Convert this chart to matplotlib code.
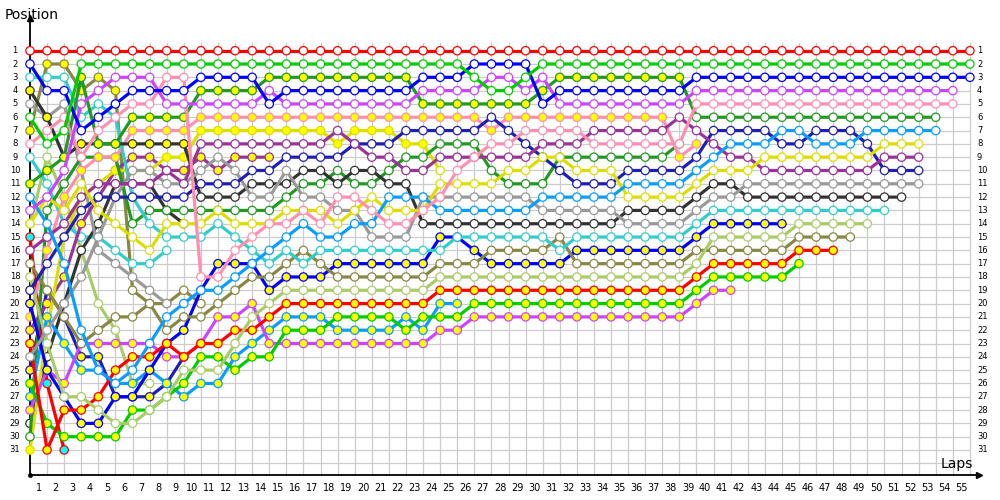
import matplotlib
matplotlib.use("Agg")
import matplotlib.pyplot as plt

laps = list(range(0, 56))
position_labels = [str(p) for p in range(1, 32)]
lap_labels = [str(n) for n in range(1, 56)]

# position of every car per lap, lap 0 is the starting grid
red_1 = [1, 1, 1, 1, 1, 1, 1, 1, 1, 1,  1, 1, 1, 1, 1, 1, 1, 1, 1, 1,
         1, 1, 1, 1, 1, 1, 1, 1, 1, 1,  1, 1, 1, 1, 1, 1, 1, 1, 1, 1,
         1, 1, 1, 1, 1, 1, 1, 1, 1, 1,  1, 1, 1, 1, 1, 1]
lime_1 = [6, 8, 7, 2, 2, 2, 2, 2, 2, 2,  2, 2, 2, 2, 2, 2, 2, 2, 2, 2,
          2, 2, 2, 2, 2, 2, 3, 4, 4, 3,  2, 2, 2, 2, 2, 2, 2, 2, 2, 2,
          2, 2, 2, 2, 2, 2, 2, 2, 2, 2,  2, 2, 2, 2, 2, 2]
blue_1 = [2, 4, 4, 7, 6, 5, 4, 4, 4, 4,  3, 3, 3, 3, 5, 4, 4, 4, 4, 4,
          4, 4, 4, 3, 3, 3, 2, 2, 2, 2,  5, 4, 4, 4, 4, 4, 4, 4, 4, 3,
          3, 3, 3, 3, 3, 3, 3, 3, 3, 3,  3, 3, 3, 3, 3, 3]
violet_1 = [13, 12, 10, 5, 4, 3, 3, 3, 5, 5,  5, 5, 5, 5, 4, 5, 5, 5, 5, 5,
            5, 5, 5, 4, 4, 4, 4, 3, 3, 4,  3, 5, 5, 5, 5, 5, 5, 5, 5, 4,
            4, 4, 4, 4, 4, 4, 4, 4, 4, 4,  4, 4, 4, 4, 4]
pink_2 = [8, 7, 6, 9, 7, 6, 5, 5, 3, 3,  18, 18, 16, 15, 14, 14, 13, 14, 12, 12,
          13, 14, 14, 13, 12, 10, 9, 8, 8, 7,  7, 7, 7, 8, 8, 8, 8, 8, 8, 5,
          5, 5, 5, 5, 5, 5, 5, 5, 5, 5,  5, 5, 5, 5, 5]
green_1 = [11, 10, 9, 3, 8, 8, 6, 6, 6, 6,  4, 4, 4, 4, 3, 3, 3, 3, 3, 3,
           3, 3, 3, 5, 5, 5, 5, 5, 5, 5,  4, 3, 3, 3, 3, 3, 3, 3, 3, 6,
           6, 6, 6, 6, 6, 6, 6, 6, 6, 6,  6, 6, 6, 6]
azure_1 = [12, 14, 17, 22, 25, 26, 25, 23, 21, 20,  19, 19, 18, 17, 16, 15, 14, 15, 15, 14,
           14, 12, 12, 12, 13, 13, 13, 13, 13, 13,  12, 12, 12, 12, 12, 11, 11, 11, 11, 10,
           9, 8, 8, 8, 7, 7, 8, 8, 8, 7,  7, 7, 7, 7]
yellow_1 = [14, 12, 13, 11, 13, 14, 15, 16, 14, 14,  14, 13, 14, 14, 14, 13, 13, 13, 14, 13,
            12, 13, 13, 13, 11, 11, 11, 11, 10, 10,  9, 9, 10, 10, 10, 12, 12, 12, 12, 11,
            10, 10, 10, 9, 9, 9, 9, 9, 9, 9,  8, 8, 8]
purple_1 = [16, 15, 14, 12, 11, 11, 11, 11, 10, 11,  8, 8, 8, 8, 8, 8, 8, 8, 7, 8,
            9, 9, 10, 10, 9, 9, 9, 9, 9, 9,  8, 8, 8, 7, 7, 7, 7, 7, 6, 7,
            8, 9, 9, 10, 10, 10, 10, 10, 10, 10,  9, 9, 9]
navy_1 = [19, 17, 15, 13, 12, 12, 12, 12, 12, 12,  11, 11, 11, 10, 10, 9, 9, 9, 9, 8,
          8, 8, 7, 7, 7, 7, 7, 6, 7, 8,  9, 10, 11, 11, 11, 10, 10, 10, 10, 9,
          7, 7, 7, 7, 8, 8, 7, 7, 7, 8,  10, 10, 10]
grey_1 = [24, 22, 20, 18, 15, 12, 10, 10, 11, 11,  10, 9, 10, 12, 12, 10, 12, 12, 13, 13,
          15, 15, 15, 12, 12, 12, 12, 12, 12, 12,  13, 13, 13, 13, 13, 14, 14, 14, 14, 13,
          12, 12, 11, 11, 11, 11, 11, 11, 11, 11,  11, 11, 11]
dark_1 = [4, 6, 9, 8, 8, 8, 8, 8, 8, 8,  12, 12, 12, 11, 11, 11, 10, 10, 11, 10,
          10, 11, 11, 14, 14, 14, 14, 14, 14, 14,  14, 14, 14, 14, 14, 13, 13, 13, 13, 12,
          11, 11, 12, 12, 12, 12, 12, 12, 12, 12,  12, 12]
teal_1 = [3, 3, 3, 6, 5, 6, 12, 14, 15, 15,  15, 14, 15, 16, 17, 16, 17, 16, 16, 16,
          16, 16, 16, 16, 16, 15, 15, 15, 15, 15,  15, 16, 15, 15, 15, 15, 15, 15, 15, 14,
          13, 13, 13, 13, 13, 13, 13, 13, 13, 13,  13]
khaki_1 = [18, 23, 27, 27, 28, 29, 29, 28, 27, 25,  25, 25, 23, 21, 20, 19, 19, 19, 19, 19,
           19, 19, 19, 19, 18, 18, 18, 18, 18, 18,  18, 18, 18, 18, 18, 18, 18, 18, 18, 17,
           15, 15, 15, 15, 15, 14, 14, 14, 14, 14]
olive_1 = [17, 19, 21, 23, 22, 21, 21, 20, 22, 21,  21, 20, 19, 18, 18, 17, 16, 17, 18, 18,
           18, 18, 18, 18, 17, 17, 17, 16, 16, 16,  16, 15, 17, 17, 17, 17, 17, 17, 17, 16,
           16, 16, 16, 16, 16, 15, 15, 15, 15]
red_2 = [23, 31, 28, 28, 27, 25, 24, 24, 23, 24,  23, 23, 22, 22, 21, 20, 20, 20, 20, 20,
         20, 20, 20, 20, 19, 19, 19, 19, 19, 19,  19, 19, 19, 19, 19, 19, 19, 19, 19, 18,
         17, 17, 17, 17, 17, 16, 16, 16]
lime_2 = [26, 29, 30, 30, 30, 30, 28, 28, 27, 26,  24, 24, 25, 24, 24, 22, 22, 22, 21, 21,
          21, 21, 22, 21, 21, 21, 20, 20, 20, 20,  20, 20, 20, 20, 20, 20, 20, 20, 20, 19,
          18, 18, 18, 18, 18, 17]
blue_2 = [20, 25, 27, 29, 29, 27, 27, 25, 23, 22,  19, 17, 17, 17, 19, 18, 18, 18, 17, 17,
          17, 17, 17, 17, 15, 15, 16, 17, 17, 17,  17, 17, 16, 16, 16, 16, 16, 16, 16, 15,
          14, 14, 14, 14, 14]
violet_2 = [28, 25, 26, 23, 23, 23, 23, 23, 24, 24,  23, 21, 21, 20, 23, 23, 23, 23, 23, 23,
            23, 23, 23, 23, 22, 22, 21, 21, 21, 21,  21, 21, 21, 21, 21, 21, 21, 21, 21, 20,
            19, 19]
pink_1 = [21, 16, 12, 10, 9, 9, 7, 7, 7, 7,  6, 6, 6, 6, 6, 6, 6, 6, 6, 6,
          6, 6, 6, 6, 6, 6, 6, 7, 6, 6,  6, 6, 6, 6, 6, 6, 6, 6, 9, 8]
azure_2 = [27, 21, 23, 25, 25, 26, 26, 25, 26, 27,  26, 26, 24, 23, 22, 21, 21, 21, 22, 22,
           22, 22, 21, 22, 20, 20]
green_2 = [30, 13, 11, 9, 9, 9, 14, 13, 13, 13,  13, 13, 13, 13, 13, 12, 11, 11, 10, 11,
           11, 10, 9, 9, 8, 8, 8, 10, 11, 11,  11, 9, 9, 9, 9, 9, 9, 9, 8]
yellow_2 = [31, 22, 15, 12, 11, 10, 10, 10, 9, 9,  7, 7, 7, 7, 7, 7, 7, 7, 8, 7,
            7, 7, 8, 8, 10]
purple_2 = [22, 20, 18, 14, 12, 10, 9, 9, 10, 10,  9, 10, 9, 9, 9]
navy_2 = [25, 19, 21, 24, 24, 27, 27, 27, 26, 24]
grey_2 = [5, 6, 5, 10, 16, 17, 18, 19, 20]
dark_2 = [29, 24, 20, 16, 14, 11, 11, 11, 13, 14]
teal_2 = [9, 11, 14, 15, 15, 16, 17, 17, 16]
khaki_2 = [14, 9, 12, 16, 20, 22, 26, 26]
olive_2 = [7, 2, 2, 4, 3, 4, 19, 20, 20, 19, 20]
red_3 = [15, 26, 31]

RED, LIME, BLUE, VIOLET, PINK = "#ff0000", "#00cc00", "#0000ff", "#cc44ff", "#ff8fb0"
GREEN, AZURE, YELLOW, PURPLE, NAVY = "#229922", "#0a9cff", "#dddd00", "#993399", "#1f1fb4"
GREY, DARK, TEAL, KHAKI, OLIVE = "#999999", "#333333", "#33cccc", "#aacc66", "#888844"

# (positions, colour, first and last lap drawn with a yellow marker)
cars = [
    (red_3, RED, None), (olive_2, OLIVE, (0, 5)), (khaki_2, KHAKI, None),
    (teal_2, TEAL, None), (dark_2, DARK, None), (grey_2, GREY, None),
    (navy_2, NAVY, (0, 9)), (purple_2, PURPLE, (0, 14)), (yellow_2, YELLOW, (0, 23)),
    (green_2, GREEN, None), (azure_2, AZURE, (0, 25)), (pink_1, PINK, (0, 39)),
    (violet_2, VIOLET, (0, 41)), (blue_2, BLUE, (0, 44)), (lime_2, LIME, (0, 45)),
    (red_2, RED, (0, 47)), (olive_1, OLIVE, None), (khaki_1, KHAKI, None),
    (teal_1, TEAL, None), (dark_1, DARK, (0, 9)), (grey_1, GREY, None),
    (navy_1, NAVY, None), (purple_1, PURPLE, None), (yellow_1, YELLOW, None),
    (azure_1, AZURE, None), (green_1, GREEN, (0, 38)), (pink_2, PINK, None),
    (violet_1, VIOLET, None), (blue_1, BLUE, None), (lime_1, LIME, None),
    (red_1, RED, None),
]

fig = plt.figure(figsize=(10, 5), dpi=100)
ax = fig.add_axes([0, 0, 1, 1])
ax.set_xlim(-1.755, 56.76)
ax.set_ylim(34.757, -2.809)
ax.axis("off")

# grid
for n in laps:
    ax.plot([n, n], [0.4, 32.9], color="#cccccc", lw=0.9, zorder=1)
for p in range(1, 33):
    ax.plot([0, 55], [p, p], color="#cccccc", lw=0.9, zorder=1)

# axes with arrows
ax.plot([0, 0], [32.9, -1.4], color="black", lw=1.3, zorder=2)
ax.plot([0, 55.5], [32.9, 32.9], color="black", lw=1.3, zorder=2)
ax.plot([0], [-1.45], marker="^", color="black", ms=5, zorder=2)
ax.plot([55.55], [32.9], marker=">", color="black", ms=5, zorder=2)
ax.plot([0], [32.9], marker="o", color="black", ms=2.5, zorder=2)
ax.text(-1.5, -1.65, "Position", fontsize=10, ha="left", va="center")
ax.text(55.2, 32.05, "Laps", fontsize=10, ha="right", va="center")

for p, lab in zip(range(1, 32), position_labels):
    ax.text(-0.88, p, lab, fontsize=6, ha="center", va="center")
    ax.text(55.41, p, lab, fontsize=6, ha="left", va="center")
for n, lab in zip(range(1, 56), lap_labels):
    ax.text(n - 0.5, 33.85, lab, fontsize=7, ha="center", va="center")

z = 3
for pos, colour, yellow in cars:
    xs = laps[:len(pos)]
    ax.plot(xs, pos, color=colour, lw=2.3, zorder=z, solid_capstyle="round")
    fills = []
    for n in xs:
        if pos is red_3:
            fills.append("#00ffff")
        elif yellow and yellow[0] <= n <= yellow[1]:
            fills.append("#ffff00")
        else:
            fills.append("white")
    ax.scatter(xs, pos, s=36, c=fills, edgecolors=colour, linewidths=0.9, zorder=z + 0.5)
    z += 1

fig.savefig("out.png", dpi=100)
